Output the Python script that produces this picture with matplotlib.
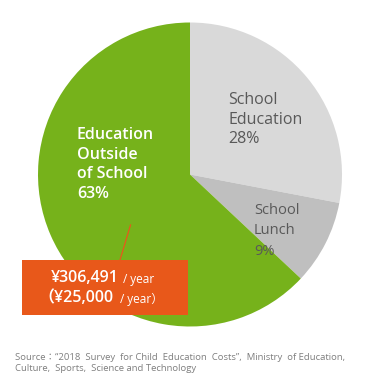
import matplotlib.pyplot as plt
from matplotlib.patches import Rectangle

# data
labels = ["School\nEducation", "School\nLunch", "Education\nOutside\nof School"]
shares = [28, 9, 63]
colors = ["#d9d9d9", "#bfbfbf", "#76b21b"]
annual_cost = "¥306,491"
monthly_cost = "¥25,000"
source = ("Source：“2018  Survey  for Child  Education  Costs”,  Ministry  of Education,\n"
          "Culture,  Sports,  Science and Technology")

W, H = 378, 383
fonts = ["Open Sans", "Noto Sans CJK JP", "DejaVu Sans"]
plt.rcParams["font.family"] = fonts

fig = plt.figure(figsize=(W / 100, H / 100), dpi=100)


def fx(px):
    return px / W


def fy(py):
    return 1 - py / H


# pie, centre (190, 174.5) px, radius 152 px
ax = fig.add_axes([fx(38), fy(326.5), 304 / W, 304 / H])
ax.pie(shares, colors=colors, startangle=90, counterclock=False,
       wedgeprops=dict(linewidth=0))
ax.set_xlim(-1, 1)
ax.set_ylim(-1, 1)
ax.axis("off")

# slice labels
fig.text(fx(228), fy(92), f"{labels[0]}\n{shares[0]}%", ha="left", va="top",
         fontsize=11.5, color="#595959", linespacing=1.31)
fig.text(fx(254), fy(203), f"{labels[1]}\n{shares[1]}%", ha="left", va="top",
         fontsize=10.5, color="#595959", linespacing=1.5)
fig.text(fx(77), fy(127), f"{labels[2]}\n{shares[2]}%", ha="left", va="top",
         fontsize=11.5, color="white", fontweight="semibold", linespacing=1.31)

# leader line and orange box
fig.add_artist(plt.Line2D([fx(130.5), fx(120)], [fy(225), fy(260)],
                          color="#e8581a", linewidth=0.9))
fig.add_artist(Rectangle((fx(22), fy(315)), 166 / W, 55 / H,
                         facecolor="#e8581a", edgecolor="none"))
fig.text(fx(51), fy(278), annual_cost, ha="left", va="center",
         fontsize=11.5, color="white", fontweight="semibold")
fig.text(fx(123), fy(279), "/ year", ha="left", va="center",
         fontsize=8.5, color="white")
fig.text(fx(38), fy(298), "（" + monthly_cost, ha="left", va="center",
         fontsize=11.5, color="white", fontweight="semibold")
fig.text(fx(120), fy(299), "/ year）", ha="left", va="center",
         fontsize=8.5, color="white")

# source note
fig.text(fx(15), fy(363), source, ha="left", va="center",
         fontsize=6.8, color="#7f7f7f", linespacing=1.25)

fig.savefig("out.png", dpi=100)
